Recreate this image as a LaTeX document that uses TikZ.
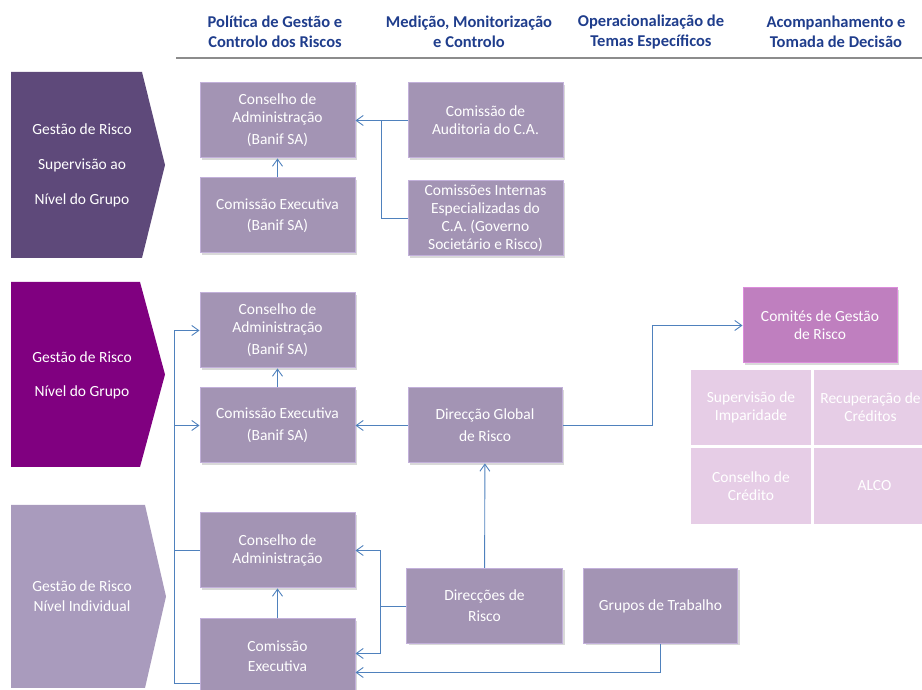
\documentclass[tikz,border=0pt]{standalone}
\usepackage{fontspec}
\setmainfont{Carlito}
\usepackage{xcolor}
\usepackage{tikz}
\usetikzlibrary{arrows.meta,positioning,shadows}
\definecolor{riskBlue}{HTML}{1F3D8C}
\definecolor{riskLink}{HTML}{4F81BD}
\definecolor{riskRule}{HTML}{8C8C8C}
\definecolor{riskBox}{HTML}{A394B4}
\definecolor{riskBoxEdge}{HTML}{C2B0DA}
\definecolor{riskChevDark}{HTML}{5E497A}
\definecolor{riskChevMag}{HTML}{800080}
\definecolor{riskChevLight}{HTML}{A99BBD}
\definecolor{riskComite}{HTML}{BF7FBF}
\definecolor{riskComiteEdge}{HTML}{DC8CDC}
\definecolor{riskCell}{HTML}{E6CDE6}
\tikzset{
  flow/.style={-{Straight Barb[length=7pt,width=10pt]}, line width=0.9pt,
    draw=riskLink},
  link/.style={line width=0.9pt, draw=riskLink},
  org box/.style={rectangle, fill=riskBox, draw=riskBoxEdge, line width=1pt,
    text=white, align=center, minimum width=155pt, minimum height=75pt,
    inner xsep=2pt, font=\fontsize{15.5}{18}\selectfont,
    drop shadow={opacity=0.3, shadow xshift=2pt, shadow yshift=-2pt}},
  comite box/.style={org box, fill=riskComite, draw=riskComiteEdge},
  cell box/.style={rectangle, fill=riskCell, draw=white, line width=1.5pt,
    text=white, align=center, minimum width=122pt, minimum height=77pt,
    inner xsep=2pt, font=\fontsize{15.5}{18}\selectfont},
  head label/.style={text=riskBlue, align=center,
    font=\bfseries\fontsize{16.5}{20}\selectfont},
  chev label/.style={text=white, align=center,
    font=\fontsize{15.5}{18}\selectfont}
}
\begin{document}
\begin{tikzpicture}[x=1pt, y=1pt]
  \useasboundingbox (0,0) rectangle (922,690);
  % column headings
  \node[head label] (hdPolicy) at (275,658) {Política de Gestão e\\Controlo dos Riscos};
  \node[head label] (hdMeasure) at (469,658) {Medição, Monitorização\\e Controlo};
  \node[head label] (hdTopics) at (651,658) {Operacionalização de\\Temas Específicos};
  \node[head label] (hdDecision) at (836,658) {Acompanhamento e\\Tomada de Decisão};
  \draw[riskRule, line width=2.5pt] (176,632) -- (922,632);
  % level chevrons
  \fill[riskChevDark] (11,618) -- (142,618) -- (165,525) -- (142,432) -- (11,432) -- cycle;
  \fill[riskChevMag] (11,408) -- (140,408) -- (165,315.5) -- (140,223) -- (11,223) -- cycle;
  \fill[riskChevLight] (11,185) -- (145,185) -- (166,93.5) -- (145,2) -- (11,2) -- cycle;
  \node[chev label] (lvSup) at (82,525) {Gestão de Risco\\[17pt]Supervisão ao\\[17pt]Nível do Grupo};
  \node[chev label] (lvGroup) at (82,315) {Gestão de Risco\\[16pt]Nível do Grupo};
  \node[chev label] (lvIndiv) at (82,94) {Gestão de Risco\\[2pt]Nível Individual};

  % supervision at group level
  \node[org box] (ca1) at (277.5,569.5) {Conselho de\\Administração\\[4pt](Banif SA)};
  \node[org box, below=19pt of ca1] (ce1) {Comissão Executiva\\[3pt](Banif SA)};
  \node[org box, right=52pt of ca1] (aud) {Comissão de\\Auditoria do C.A.};
  \node[org box, below=22pt of aud] (cint)
    {Comissões Internas\\Especializadas do\\C.A. (Governo\\Societário e Risco)};
  \draw[flow] (ce1) -- (ca1);
  \draw[flow] (aud.west) -- (ca1.east);
  \draw[link] (cint.west) -- ++(-26,0) |- (aud.west);

  % group level
  \node[org box] (ca2) at (277.5,359.5) {Conselho de\\Administração\\[4pt](Banif SA)};
  \node[org box, below=19pt of ca2] (ce2) {Comissão Executiva\\[4pt](Banif SA)};
  \node[org box, minimum width=154pt, right=52pt of ce2] (dgr) {Direcção Global\\[4pt]de Risco};
  \node[comite box, minimum width=154pt] (comites) at (820,364.5) {Comités de Gestão\\de Risco};
  \node[cell box] (imp) at (751,282.5) {Supervisão de\\Imparidade};
  \node[cell box, right=0pt of imp] (recup) {Recuperação de\hspace*{8pt}\\Créditos\hspace*{8pt}};
  \node[cell box, below=0pt of imp] (cred) {Conselho de\\Crédito};
  \node[cell box, right=0pt of cred] (alco) {ALCO};
  \draw[flow] (ce2) -- (ca2);
  \draw[flow] (dgr.west) -- (ce2.east);
  \draw[flow] (dgr.east) -- ++(90,0) |- (comites.west);

  % individual level
  \node[org box] (ca3) at (277.5,139.5) {Conselho de\\Administração};
  \node[org box, below=30pt of ca3] (ce3) {Comissão\\[2pt]Executiva};
  \node[org box, minimum width=156pt] (dir) at (484.5,84) {Direcções de\\[3pt]Risco};
  \node[org box, minimum width=154pt, right=20pt of dir] (grupos) {Grupos de Trabalho};
  \draw[flow] (ce3) -- (ca3);
  \draw[flow] (dir) -- (dgr);
  \draw[flow] (dir.west) -- ++(-26,0) |- (ca3.east);
  \draw[flow] (dir.west) -- ++(-26,0) |- ([yshift=3pt]ce3.east);
  \draw[flow] (grupos.south) |- ([yshift=-16pt]ce3.east);
  \draw[link] ([yshift=-27pt]ce3.west) -- ++(-25,0) |- (ca3.west);
  \draw[flow] (ca3.west) -- ++(-25,0) |- (ca2.west);
  \draw[flow] (ca3.west) -- ++(-25,0) |- (ce2.west);
\end{tikzpicture}
\end{document}
